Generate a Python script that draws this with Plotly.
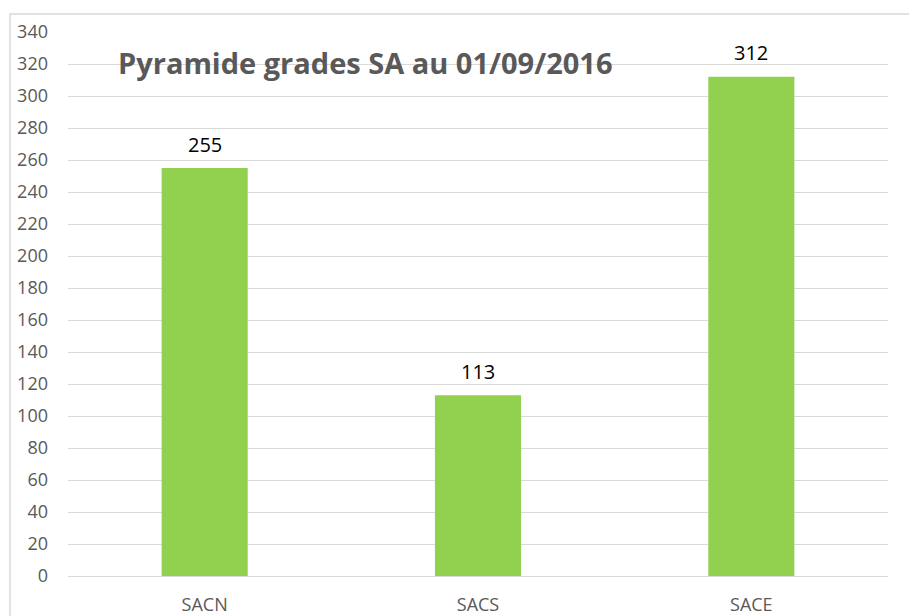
import plotly.graph_objects as go

categories = ["SACN", "SACS", "SACE"]
values = [255, 113, 312]
y_ticks = list(range(0, 341, 20))
title_text = "Pyramide grades SA au 01/09/2016"

fig = go.Figure()
fig.add_trace(go.Bar(
    x=categories, y=values,
    marker=dict(color="#92d050", line=dict(width=0)),
    width=0.315,
    hoverinfo="x+y",
))

for c, v in zip(categories, values):
    fig.add_annotation(x=c, y=v, text=str(v), showarrow=False,
                       yanchor="middle", yshift=24,
                       font=dict(family="Open Sans", size=20, color="#000000"))

fig.add_annotation(x=0.362, xref="paper", y=321, yref="y",
                   text="<b>" + title_text + "</b>", showarrow=False,
                   xanchor="center", yanchor="middle",
                   font=dict(family="Open Sans", size=29, color="#595959"))

fig.add_shape(type="rect", xref="paper", yref="paper",
              x0=-0.0707, x1=1.2, y0=-0.2, y1=1.033,
              line=dict(color="#d9d9d9", width=1.5), layer="below")

fig.update_layout(
    width=917, height=616,
    margin=dict(l=60, r=37, t=24, b=48, autoexpand=False),
    paper_bgcolor="white", plot_bgcolor="white",
    showlegend=False,
    bargap=0.685,
    font=dict(family="Open Sans", color="#595959", size=18),
)
fig.update_yaxes(range=[0, 340], tickvals=y_ticks, showgrid=True,
                 gridcolor="#d9d9d9", gridwidth=1, zeroline=False,
                 showline=False, ticks="", ticklabelstandoff=19,
                 automargin=False,
                 tickfont=dict(family="Open Sans", size=18, color="#595959"))
fig.update_xaxes(showgrid=False, showline=True, linecolor="#d9d9d9",
                 linewidth=1, ticks="", ticklabelstandoff=12,
                 automargin=False,
                 tickfont=dict(family="Open Sans", size=18, color="#595959"))

fig.write_html("out.html")
